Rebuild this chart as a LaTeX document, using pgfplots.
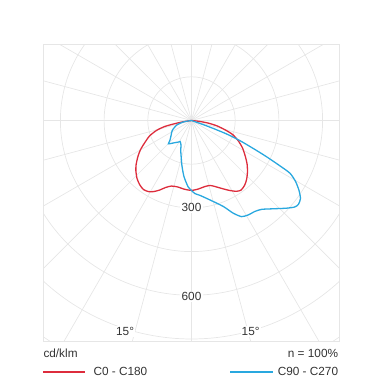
\documentclass[border=0pt]{standalone}
\usepackage{pgfplots}
\pgfplotsset{compat=1.18}
\usepackage{fontspec}
\setmainfont{Liberation Sans}
\definecolor{gridc}{HTML}{E6E6E6}
\definecolor{cred}{HTML}{DD2C3C}
\definecolor{cblue}{HTML}{29A8DF}
\definecolor{txt}{HTML}{333333}
\begin{document}
\begin{tikzpicture}[font=\fontsize{11.8bp}{14bp}\selectfont]
\path (0,0) rectangle (384bp,384bp);
\begin{axis}[at={(43bp,43bp)}, anchor=south west, scale only axis,
  width=296bp, height=297bp,
  xmin=-509.7, xmax=506.3, ymin=-756.9, ymax=262.6,
  xtick=\empty, ytick=\empty,
  axis line style={gridc, line width=0.7pt}, clip=true]
\pgfplotsinvokeforeach{150,300,...,1050}{\draw[gridc, line width=0.7pt] (axis cs:0,0) circle[radius=#1];}
\pgfplotsinvokeforeach{0,15,...,345}{\draw[gridc, line width=0.7pt] (axis cs:0,0) -- (axis cs:{1300*sin(#1)},{-1300*cos(#1)});}
\node[fill=white, inner sep=1.2bp, text=txt] at (axis cs:0,-300) {300};
\node[fill=white, inner sep=1.2bp, text=txt] at (axis cs:0,-603) {600};
\node[fill=white, inner sep=1.2bp, text=txt] at (axis cs:-228,-723) {15°};
\node[fill=white, inner sep=1.2bp, text=txt] at (axis cs:203,-723) {15°};
\addplot[draw=cred, line width=1.3pt, smooth, tension=0.4] table {
x y
0 0
-27 -4
-62 -12
-93 -21
-120 -34
-144 -53
-161 -77
-175 -100
-184 -124
-190 -151
-191 -172
-187 -199
-178 -220
-165 -237
-148 -244
-130 -244
-110 -239
-89 -230
-69 -225
-48 -228
-24 -236
0 -240
24 -235
45 -227
64 -223
82 -227
103 -233
130 -240
154 -243
170 -239
182 -223
189 -203
192 -178
191 -151
185 -124
175 -94
160 -69
141 -48
117 -33
89 -19
58 -9
27 -3
0 0
};
\addplot[draw=cblue, line width=1.3pt, smooth, tension=0.4] table {
x y
0 0
-28 -5
-51 -16
-66 -34
-70 -51
-74 -68
-79 -80
-62 -77
-45 -74
-39 -72
-36 -85
-37 -103
-35 -130
-33 -154
-26 -192
-12 -227
0 -240
12 -251
29 -257
64 -273
109 -295
143 -318
172 -330
195 -324
218 -312
241 -305
281 -303
326 -301
354 -297
367 -288
374 -268
369 -240
357 -209
338 -181
304 -156
257 -124
212 -96
166 -69
120 -46
74 -27
40 -14
0 0
};
\end{axis}
\node[anchor=west, inner sep=0pt, text=txt] at (43.3bp,30.7bp) {cd/klm};
\node[anchor=east, inner sep=0pt, text=txt] at (338.3bp,30.7bp) {n = 100\%};
\fill[fill=cred] (43.3bp,11.3bp) rectangle (85bp,13.3bp);
\node[anchor=west, inner sep=0pt, text=txt] at (93.3bp,12.3bp) {C0 - C180};
\fill[fill=cblue] (230bp,11.3bp) rectangle (273.3bp,13.3bp);
\node[anchor=east, inner sep=0pt, text=txt] at (338.3bp,12.3bp) {C90 - C270};
\end{tikzpicture}
\end{document}
